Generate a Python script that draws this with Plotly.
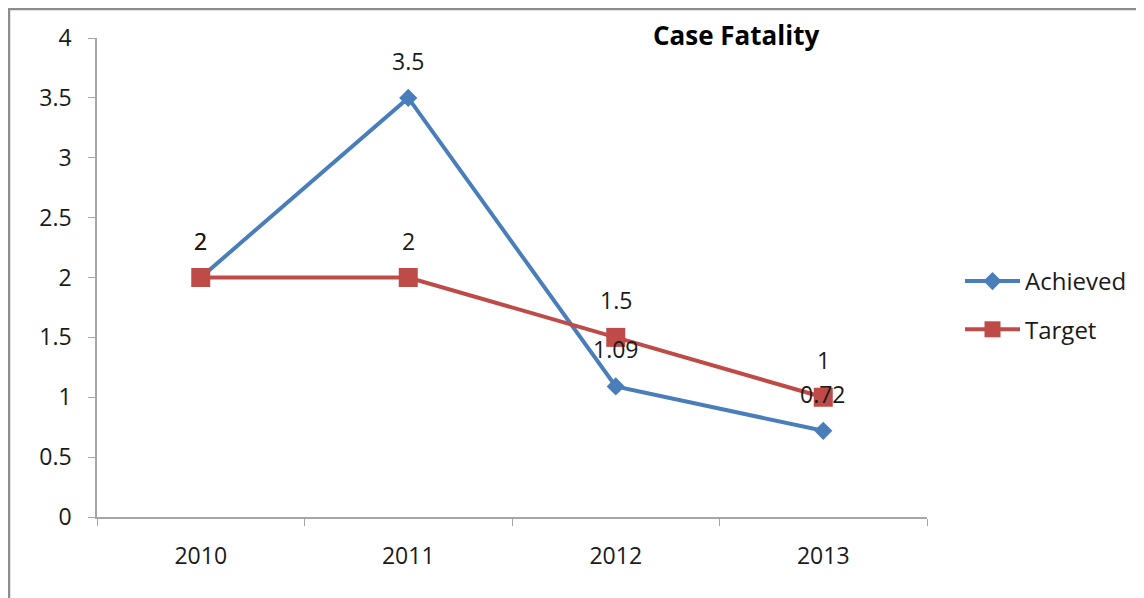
import plotly.graph_objects as go

years = ["2010", "2011", "2012", "2013"]
achieved = [2, 3.5, 1.09, 0.72]
target = [2, 2, 1.5, 1]
achieved_labels = ["2", "3.5", "1.09", "0.72"]
target_labels = ["2", "2", "1.5", "1"]
y_ticks = [0, 0.5, 1, 1.5, 2, 2.5, 3, 3.5, 4]
y_tick_text = ["0", "0.5", "1", "1.5", "2", "2.5", "3", "3.5", "4"]

BLUE = "#4A7EBB"
RED = "#BE4B48"
FONT = "Open Sans"
TXT = "#1a1a1a"

# page body has an 8px margin, so figure coords = image coords - 8
OFF = 8
W, H = 1144 - OFF, 598 - OFF
L, R, T, B = 97 - OFF, 927 - OFF, 38 - OFF, 517 - OFF
pw, ph = R - L, B - T

fig = go.Figure()
fig.add_trace(go.Scatter(
    x=years, y=achieved, name="Achieved", mode="lines+markers",
    legendgroup="a",
    line=dict(color=BLUE, width=4),
    marker=dict(symbol="diamond", size=14, color=BLUE),
))
fig.add_trace(go.Scatter(
    x=years, y=target, name="Target", mode="lines+markers",
    legendgroup="b",
    line=dict(color=RED, width=4),
    marker=dict(symbol="square", size=19, color=RED),
))

annotations = []
for ys, labs in [(achieved, achieved_labels), (target, target_labels)]:
    for i, (y, t) in enumerate(zip(ys, labs)):
        annotations.append(dict(
            x=i, y=y, xref="x", yref="y", text=t, showarrow=False,
            yshift=37, font=dict(family=FONT, size=23, color=TXT),
        ))
annotations.append(dict(
    x=(736 - OFF - L) / pw, y=(B - (35 - OFF)) / ph, xref="paper", yref="paper",
    xanchor="center", yanchor="middle",
    text="<b>Case Fatality</b>", showarrow=False,
    font=dict(family=FONT, size=26, color="#000000"),
))
fig.update_layout(annotations=annotations)

fig.add_shape(
    type="rect", xref="paper", yref="paper",
    x0=(1 - L) / pw, x1=(1200 - L) / pw,
    y0=(B - 650) / ph, y1=(B - 1) / ph,
    line=dict(color="#8c8c8c", width=2.5), fillcolor="rgba(0,0,0,0)",
    layer="below",
)

fig.update_layout(
    width=W, height=H,
    margin=dict(l=L, r=W - R, t=T, b=H - B),
    plot_bgcolor="white", paper_bgcolor="white",
    showlegend=True,
    legend=dict(
        x=(960 - OFF - L) / pw, y=(B - (259 - OFF)) / ph, xref="paper", yref="paper",
        xanchor="left", yanchor="top",
        font=dict(family=FONT, size=24, color=TXT),
        itemwidth=55, tracegroupgap=14, traceorder="grouped",
        bgcolor="rgba(0,0,0,0)",
    ),
    xaxis=dict(
        type="category", range=[-0.5, 3.5],
        showline=True, linecolor="#a6a6a6", linewidth=1.5,
        ticks="outside", tickson="boundaries", ticklen=7, tickcolor="#a6a6a6",
        showgrid=False, zeroline=False,
        tickfont=dict(family=FONT, size=23, color=TXT),
        ticklabelstandoff=18,
    ),
    yaxis=dict(
        range=[0, 4], tickvals=y_ticks, ticktext=y_tick_text,
        showline=True, linecolor="#a6a6a6", linewidth=1.5,
        ticks="outside", ticklen=7, tickcolor="#a6a6a6",
        showgrid=False, zeroline=False,
        tickfont=dict(family=FONT, size=23, color=TXT),
        ticklabelstandoff=12,
    ),
)

fig.write_html("out.html")
